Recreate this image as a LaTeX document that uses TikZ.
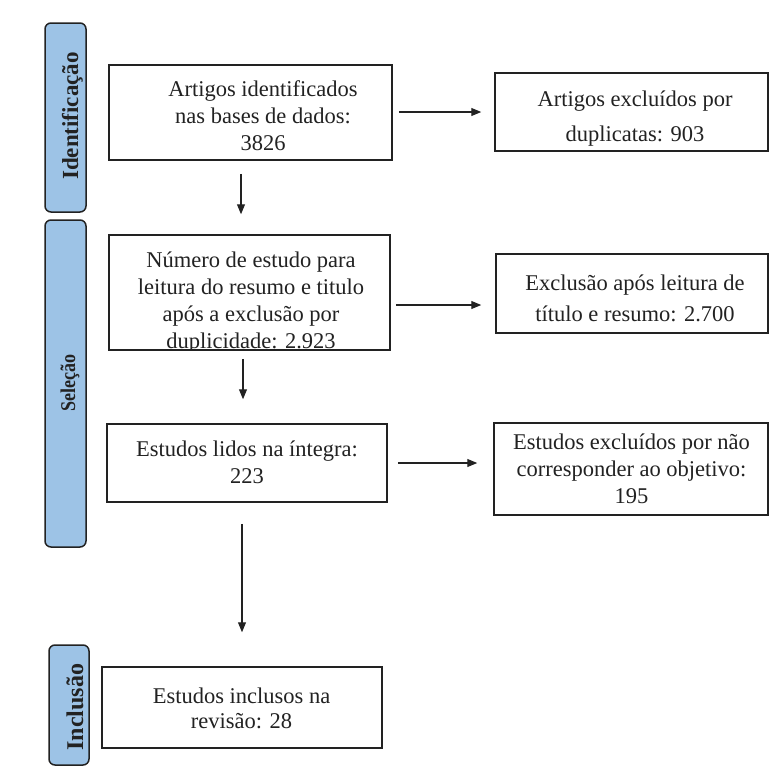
\documentclass[tikz,border=0pt]{standalone}
\usepackage{fontspec}
\setmainfont{Liberation Serif}
\usetikzlibrary{calc,arrows.meta}
\definecolor{barblue}{HTML}{9DC3E6}
\definecolor{ink}{HTML}{222222}
\tikzset{
  box/.style={draw=ink, line width=1.5pt, fill=white, inner sep=0pt},
  bar/.style={draw=ink, line width=1.5pt, fill=barblue, rounded corners=6pt, inner sep=0pt},
  txt/.style={align=center, inner sep=0pt, text=ink},
  barlabel/.style={rotate=90, inner sep=0pt, text=ink},
  flow/.style={draw=ink, line width=1.1pt, -{Triangle[length=10pt,width=8pt]}}
}
\begin{document}
\begin{tikzpicture}[x=1pt,y=-1pt]
\useasboundingbox (0,0) rectangle (769,766);
% side bars
\node[bar, minimum width=41pt, minimum height=189pt] (s1) at (65.5,117.5) {};
\node[bar, minimum width=41pt, minimum height=327pt] (s2) at (65.5,383.5) {};
\node[bar, minimum width=40pt, minimum height=120pt] (s3) at (69,705) {};
\node[barlabel, font=\fontsize{23}{27}\selectfont\bfseries] (l1) at (72.5,116) {Identificação};
\node[barlabel, xscale=0.86, font=\fontsize{21}{25}\selectfont\bfseries] (l2) at (70,383) {Seleção};
\node[barlabel, font=\fontsize{24}{28}\selectfont\bfseries] (l3) at (75,707) {Inclusão};
% boxes
\node[box, minimum width=283pt, minimum height=95pt] (b1) at (250.5,112.5) {};
\node[box, minimum width=273pt, minimum height=78pt] (r1) at (631.5,112) {};
\node[box, minimum width=281pt, minimum height=115pt] (b2) at (249.5,292.5) {};
\node[box, minimum width=272pt, minimum height=79pt] (r2) at (632,293.5) {};
\node[box, minimum width=280pt, minimum height=78pt] (b3) at (247,463) {};
\node[box, minimum width=274pt, minimum height=92pt] (r3) at (631,469) {};
\node[box, minimum width=280pt, minimum height=81pt] (b4) at (242,707.5) {};
% texts
\node[txt, font=\fontsize{22.5}{27}\selectfont] (t1) at (263,115.8) {Artigos identificados\\nas bases de dados:\\3826};
\node[txt, font=\fontsize{22.5}{35}\selectfont] (u1) at (635,119) {Artigos excluídos por\\duplicatas: 903};
\begin{scope}
  \clip ($(b2.south west)+(0.75,-0.75)$) rectangle ($(b2.north east)+(-0.75,0.75)$);
  \node[txt, font=\fontsize{22.5}{27}\selectfont] (t2) at (251,303) {Número de estudo para\\leitura do resumo e titulo\\após a exclusão por\\duplicidade: 2.923};
\end{scope}
\node[txt, font=\fontsize{22.5}{31}\selectfont] (u2) at (635,298.5) {Exclusão após leitura de\\título e resumo: 2.700};
\node[txt, font=\fontsize{22.5}{26.7}\selectfont] (t3) at (247,462.3) {Estudos lidos na íntegra:\\223};
\node[txt, font=\fontsize{22.5}{27}\selectfont] (u3) at (631.5,468.3) {Estudos excluídos por não\\corresponder ao objetivo:\\195};
\node[txt, font=\fontsize{22.5}{25}\selectfont] (t4) at (241.5,708) {Estudos inclusos na\\revisão: 28};
% connectors
\draw[flow] ($(b1.south)+(-9.5,13)$) -- ($(b2.north)+(-8.5,-20)$);
\draw[flow] ($(b2.south)+(-6.5,8)$) -- ($(b3.north)+(-4,-24)$);
\draw[flow] ($(b3.south)+(-5,21)$) -- ($(b4.north)+(0,-34)$);
\draw[flow] ($(b1.east)+(6,-0.5)$) -- ($(r1.west)+(-13,0)$);
\draw[flow] ($(b2.east)+(5,12.5)$) -- ($(r2.west)+(-14,11.5)$);
\draw[flow] ($(b3.east)+(10,0)$) -- ($(r3.west)+(-16,-6)$);
\end{tikzpicture}
\end{document}
